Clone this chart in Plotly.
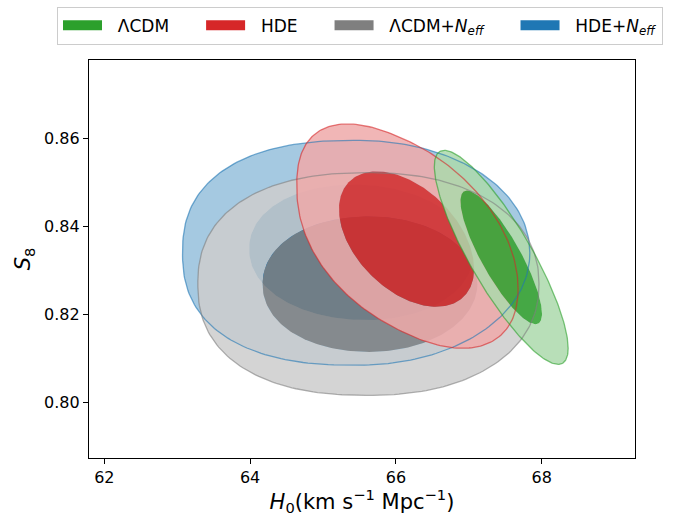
import numpy as np
import plotly.graph_objects as go

# ---------------- data ----------------
models = ["ΛCDM", "HDE", "ΛCDM+<i>N</i><sub><i>eff</i></sub>", "HDE+<i>N</i><sub><i>eff</i></sub>"]
base_colors = [(44, 160, 44), (214, 39, 40), (127, 127, 127), (31, 119, 180)]

# 68% (inner) contour: centre, half-extent in H0 and S8, correlation, shape exponent
in_h0 = [67.445, 66.146, 65.644, 65.520]
in_s8 = [0.83295, 0.83711, 0.82689, 0.83410]
in_dh0 = [0.559, 0.927, 1.473, 1.534]
in_ds8 = [0.01515, 0.01534, 0.01534, 0.01534]
in_rho = [-0.84, -0.44, 0.0, -0.05]
in_p_left = [2.0, 2.0, 2.1, 2.1]
in_p_right = [2.0, 2.0, 2.0, 2.0]

# 95% (outer) contour
out_h0 = [67.445, 66.158, 65.623, 65.455]
out_s8 = [0.83298, 0.83750, 0.82693, 0.83401]
out_dh0 = [0.918, 1.518, 2.340, 2.382]
out_ds8 = [0.02425, 0.02482, 0.02523, 0.02549]
out_rho = [-0.85, -0.47, 0.0, 0.0]
out_p_left = [2.0, 2.3, 2.35, 2.4]
out_p_right = [2.0, 2.1, 2.2, 2.05]

fill_alpha = [0.85, 0.85, 0.85, 1.0]

x_ticks = [62, 64, 66, 68]
y_ticks = [0.80, 0.82, 0.84, 0.86]
x_range = [61.79, 69.28]
y_range = [0.7875, 0.8777]


def contour_curve(cx, cy, ax, ay, rho, pl, pr, n=240):
    t = np.linspace(0, 2 * np.pi, n)
    c, s = np.cos(t), np.sin(t)
    p = np.where(c < 0, pl, pr)
    cp = np.sign(c) * np.abs(c) ** (2.0 / p)
    sp = np.sign(s) * np.abs(s) ** (2.0 / p)
    x = cx + ax * cp
    y = cy + ay * (rho * cp + np.sqrt(1 - rho ** 2) * sp)
    return x, y


def rgba(c, a):
    return f"rgba({c[0]},{c[1]},{c[2]},{a})"


def pale(c, f=0.6):
    return tuple(int(round(v * (1 - f) + 255 * f)) for v in c)


fig = go.Figure()

# fills, bottom model first (HDE+Neff) up to ΛCDM on top
order = [3, 2, 1, 0]
outlines = []
for i in order:
    xo, yo = contour_curve(out_h0[i], out_s8[i], out_dh0[i], out_ds8[i], out_rho[i],
                           out_p_left[i], out_p_right[i])
    xi, yi = contour_curve(in_h0[i], in_s8[i], in_dh0[i], in_ds8[i], in_rho[i],
                           in_p_left[i], in_p_right[i])
    # outer band: outer curve with the inner curve (reversed) as a hole
    xr = list(xo) + [None] + list(xi[::-1])
    yr = list(yo) + [None] + list(yi[::-1])
    fig.add_trace(go.Scatter(x=xr, y=yr, mode="lines", fill="toself",
                             fillcolor=rgba(pale(base_colors[i]), fill_alpha[i]),
                             line=dict(width=0), hoverinfo="skip", showlegend=False))
    fig.add_trace(go.Scatter(x=xi, y=yi, mode="lines", fill="toself",
                             fillcolor=rgba(base_colors[i], fill_alpha[i]),
                             line=dict(width=0), hoverinfo="skip", showlegend=False))
    outlines.append((i, xo, yo))

for i, xo, yo in outlines:
    fig.add_trace(go.Scatter(x=xo, y=yo, mode="lines",
                             line=dict(color=rgba(base_colors[i], 0.6), width=1.3),
                             hoverinfo="skip", showlegend=False))

# legend entries (non-breaking spaces only pad the spacing between entries)
NB = "\u00a0"
for i in range(4):
    label = NB * 2 + models[i] + (NB * 5 if i < 3 else "")
    fig.add_trace(go.Scatter(x=[None], y=[None], mode="lines", name=label,
                             line=dict(color=rgba(base_colors[i], 1), width=15)))

font_family = "DejaVu Sans"
axis_common = dict(showline=True, linecolor="black", linewidth=1.2, mirror=True,
                   ticks="outside", ticklen=5, tickwidth=1.1, tickcolor="black",
                   showgrid=False, zeroline=False, automargin=False,
                   tickfont=dict(family=font_family, size=16, color="black"))

fig.update_layout(
    width=678, height=516,
    margin=dict(l=89, r=43, t=60, b=58, autoexpand=False),
    paper_bgcolor="white", plot_bgcolor="white",
    font=dict(family=font_family, color="black"),
    xaxis=dict(range=x_range, tickvals=x_ticks, ticktext=[str(v) for v in x_ticks],
               title=dict(text="<i>H</i><sub>0</sub>(km s<sup>−1</sup> Mpc<sup>−1</sup>)",
                          font=dict(size=21, family=font_family), standoff=17),
               **axis_common),
    yaxis=dict(range=y_range, tickvals=y_ticks, ticktext=[f"{v:.2f}" for v in y_ticks],
               title=dict(text="<i>S</i><sub>8</sub>",
                          font=dict(size=21, family=font_family), standoff=7),
               **axis_common),
    legend=dict(orientation="h", x=-0.0586, xanchor="left", y=1.134, yanchor="top",
                bordercolor="#cccccc", borderwidth=1, bgcolor="white",
                font=dict(size=17, family=font_family), itemwidth=39),
)

fig.write_html("out.html")
